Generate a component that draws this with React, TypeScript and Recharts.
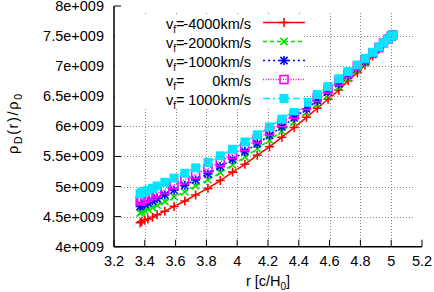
import { LineChart, Line, XAxis, YAxis } from "recharts";

// radius values [c/H0]
const rValues = [
  3.37, 3.38, 3.4, 3.42, 3.45, 3.48, 3.53, 3.59, 3.66, 3.73, 3.81, 3.89, 3.97,
  4.05, 4.13, 4.21, 4.29, 4.37, 4.45, 4.52, 4.59, 4.66, 4.72, 4.78, 4.83,
  4.88, 4.92, 4.95, 4.98, 5.0, 5.01,
];

// rho_D(r)/rho_0 in units of 1e9
const rhoM4000 = [
  4.4, 4.42, 4.44, 4.46, 4.49, 4.53, 4.59, 4.67, 4.76, 4.86, 4.97, 5.1, 5.24,
  5.37, 5.52, 5.66, 5.82, 5.98, 6.15, 6.3, 6.45, 6.6, 6.76, 6.89, 7.02, 7.17,
  7.28, 7.37, 7.44, 7.49, 7.52,
];
const rhoM2000 = [
  4.56, 4.58, 4.6, 4.62, 4.65, 4.69, 4.75, 4.83, 4.91, 5.01, 5.11, 5.23, 5.36,
  5.49, 5.63, 5.77, 5.92, 6.07, 6.23, 6.37, 6.51, 6.65, 6.8, 6.93, 7.05, 7.19,
  7.29, 7.38, 7.45, 7.49, 7.52,
];
const rhoM1000 = [
  4.67, 4.69, 4.71, 4.73, 4.76, 4.8, 4.86, 4.94, 5.02, 5.11, 5.21, 5.33, 5.45,
  5.58, 5.71, 5.85, 5.99, 6.14, 6.29, 6.43, 6.57, 6.71, 6.85, 6.97, 7.08,
  7.21, 7.3, 7.38, 7.45, 7.5, 7.52,
];
const rhoZero = [
  4.76, 4.78, 4.8, 4.82, 4.85, 4.89, 4.95, 5.03, 5.11, 5.2, 5.3, 5.41, 5.53,
  5.66, 5.79, 5.92, 6.06, 6.2, 6.35, 6.48, 6.62, 6.75, 6.88, 7.0, 7.11, 7.22,
  7.31, 7.39, 7.45, 7.5, 7.52,
];
const rhoP1000 = [
  4.88, 4.9, 4.92, 4.94, 4.97, 5.01, 5.07, 5.14, 5.22, 5.31, 5.4, 5.51, 5.62,
  5.74, 5.86, 5.99, 6.12, 6.26, 6.4, 6.53, 6.66, 6.79, 6.91, 7.02, 7.13, 7.23,
  7.32, 7.39, 7.45, 7.5, 7.52,
];

const xTicks = [3.2, 3.4, 3.6, 3.8, 4, 4.2, 4.4, 4.6, 4.8, 5, 5.2];
const yTicks = [4, 4.5, 5, 5.5, 6, 6.5, 7, 7.5, 8];

const legendValues = ["-4000km/s", "-2000km/s", "-1000km/s", "0km/s", "1000km/s"];

const W = 434;
const H = 292;
const MARGIN = { top: 6, right: 12, bottom: 0, left: 0 };
const X_AXIS_H = 45.3;
const Y_AXIS_W = 114;
const PLOT_LEFT = MARGIN.left + Y_AXIS_W;
const PLOT_TOP = MARGIN.top;
const PLOT_RIGHT = W - MARGIN.right;
const PLOT_BOTTOM = H - MARGIN.bottom - X_AXIS_H;

const FONT = "'Liberation Sans', Arial, sans-serif";
const FS = 14.5;
const TICK = 7;
const GRID = "#888";

type Shape = "plus" | "cross" | "star" | "openSquare" | "square";

const seriesDefs: {
  key: string;
  color: string;
  dash?: string;
  shape: Shape;
}[] = [
  { key: "m4000", color: "#ff0000", shape: "plus" },
  { key: "m2000", color: "#00e000", dash: "4 3", shape: "cross" },
  { key: "m1000", color: "#0000ff", dash: "2 3", shape: "star" },
  { key: "zero", color: "#ff00ff", dash: "1 1.5", shape: "openSquare" },
  { key: "p1000", color: "#00e8ff", dash: "7 3 2 3", shape: "square" },
];

const data = rValues.map((r, i) => ({
  r,
  m4000: rhoM4000[i],
  m2000: rhoM2000[i],
  m1000: rhoM1000[i],
  zero: rhoZero[i],
  p1000: rhoP1000[i],
}));

function Marker({ cx, cy, shape, color }: { cx: number; cy: number; shape: Shape; color: string }) {
  const s = 4.5;
  const d = 3.6;
  if (shape === "plus")
    return (
      <g stroke={color} strokeWidth={1.6}>
        <line x1={cx - s} x2={cx + s} y1={cy} y2={cy} />
        <line x1={cx} x2={cx} y1={cy - s} y2={cy + s} />
      </g>
    );
  if (shape === "cross")
    return (
      <g stroke={color} strokeWidth={1.6}>
        <line x1={cx - d} x2={cx + d} y1={cy - d} y2={cy + d} />
        <line x1={cx - d} x2={cx + d} y1={cy + d} y2={cy - d} />
      </g>
    );
  if (shape === "star")
    return (
      <g stroke={color} strokeWidth={1.6}>
        <line x1={cx - s} x2={cx + s} y1={cy} y2={cy} />
        <line x1={cx} x2={cx} y1={cy - s} y2={cy + s} />
        <line x1={cx - d} x2={cx + d} y1={cy - d} y2={cy + d} />
        <line x1={cx - d} x2={cx + d} y1={cy + d} y2={cy - d} />
      </g>
    );
  if (shape === "openSquare")
    return <rect x={cx - 4} y={cy - 4} width={8} height={8} fill="none" stroke={color} strokeWidth={1.6} />;
  return <rect x={cx - 4.5} y={cy - 4.5} width={9} height={9} fill={color} />;
}

const snap = (v: number) => Math.round(v) + 0.5;
// tick value -> pixel, for the dotted grid only
const gx = (v: number) => PLOT_LEFT + ((v - 3.2) / 2) * (PLOT_RIGHT - PLOT_LEFT);
const gy = (v: number) => PLOT_TOP + ((8 - v) / 4) * (PLOT_BOTTOM - PLOT_TOP);

const BottomTick = (props: any) => {
  const { x, y, payload } = props;
  return (
    <g>
      <line x1={x} x2={x} y1={y} y2={y - TICK} stroke="#000" strokeWidth={1} />
      <text x={x} y={y + 19.3} textAnchor="middle" fontFamily={FONT} fontSize={FS} fill="#000">
        {payload.value}
      </text>
    </g>
  );
};

const LeftTick = (props: any) => {
  const { x, y, payload } = props;
  return (
    <g>
      <line x1={x} x2={x + TICK} y1={y} y2={y} stroke="#000" strokeWidth={1} />
      <text x={x - 10} y={y + 5} textAnchor="end" fontFamily={FONT} fontSize={FS} fill="#000">
        {`${payload.value}e+009`}
      </text>
    </g>
  );
};

const TopTick = (props: any) => {
  const { x, y } = props;
  return <line x1={x} x2={x} y1={y} y2={y + TICK} stroke="#000" strokeWidth={1} />;
};

const RightTick = (props: any) => {
  const { x, y } = props;
  return <line x1={x} x2={x - TICK} y1={y} y2={y} stroke="#000" strokeWidth={1} />;
};

function Vf({ x, y }: { x: number; y: number }) {
  return (
    <text x={x} y={y} fontFamily={FONT} fontSize={FS} fill="#000">
      v<tspan fontSize={10} dy={4}>f</tspan>
      <tspan dy={-4}>=</tspan>
    </text>
  );
}

const layer = { position: "absolute" as const, left: 0, top: 0 };

export default function App() {
  const rowY = [22.5, 41.5, 60.5, 79.5, 98.5];
  return (
    <div style={{ position: "absolute", left: 0, top: 0, width: W, height: H, background: "#fff" }}>
      <div style={layer}>
        <LineChart width={W} height={H} data={data} margin={MARGIN}>
          <XAxis
            dataKey="r"
            type="number"
            domain={[3.2, 5.2]}
            ticks={xTicks}
            allowDataOverflow
            height={X_AXIS_H}
            tickSize={0}
            tickMargin={0}
            tick={<BottomTick />}
            axisLine={{ stroke: "#000", strokeWidth: 1.5 }}
            tickLine={false}
            interval={0}
          />
          <XAxis
            xAxisId="top"
            orientation="top"
            dataKey="r"
            type="number"
            domain={[3.2, 5.2]}
            ticks={xTicks}
            allowDataOverflow
            height={0}
            tickSize={0}
            tickMargin={0}
            tick={<TopTick />}
            axisLine={{ stroke: "#000", strokeWidth: 1.5 }}
            tickLine={false}
            interval={0}
          />
          <YAxis
            type="number"
            domain={[4, 8]}
            ticks={yTicks}
            allowDataOverflow
            width={Y_AXIS_W}
            tickSize={0}
            tickMargin={0}
            tick={<LeftTick />}
            axisLine={{ stroke: "#000", strokeWidth: 1.5 }}
            tickLine={false}
            interval={0}
          />
          <YAxis
            yAxisId="right"
            orientation="right"
            type="number"
            domain={[4, 8]}
            ticks={yTicks}
            allowDataOverflow
            width={0}
            tickSize={0}
            tickMargin={0}
            tick={<RightTick />}
            axisLine={{ stroke: "#000", strokeWidth: 1.5 }}
            tickLine={false}
            interval={0}
          />
          {seriesDefs.map((s) => (
            <Line
              key={s.key}
              dataKey={s.key}
              type="linear"
              stroke={s.color}
              strokeWidth={1.5}
              strokeDasharray={s.dash}
              isAnimationActive={false}
              dot={(p: any) => (
                <Marker key={`${s.key}-${p.index}`} cx={p.cx} cy={p.cy} shape={s.shape} color={s.color} />
              )}
              activeDot={false}
            />
          ))}
        </LineChart>
      </div>
      {/* grid, legend and axis titles */}
      <svg width={W} height={H} style={{ ...layer, pointerEvents: "none" }}>
        <g stroke={GRID} strokeWidth={1} strokeDasharray="1 2">
          {xTicks.slice(1, -1).map((v) => (
            <line key={`gx-${v}`} x1={snap(gx(v))} x2={snap(gx(v))} y1={PLOT_TOP + TICK} y2={PLOT_BOTTOM - TICK} />
          ))}
          {yTicks.slice(1, -1).map((v) => (
            <line key={`gy-${v}`} x1={PLOT_LEFT + TICK} x2={PLOT_RIGHT - TICK} y1={snap(gy(v))} y2={snap(gy(v))} />
          ))}
        </g>
        <rect x={115} y={14} width={189} height={94} fill="#fff" />
        {seriesDefs.map((s, i) => (
          <g key={s.key}>
            <Vf x={166} y={rowY[i] + 6} />
            <text x={251} y={rowY[i] + 6} textAnchor="end" fontFamily={FONT} fontSize={FS} fill="#000">
              {legendValues[i]}
            </text>
            <line
              x1={263}
              x2={305}
              y1={rowY[i]}
              y2={rowY[i]}
              stroke={s.color}
              strokeWidth={1.5}
              strokeDasharray={s.dash}
            />
            <Marker cx={284} cy={rowY[i]} shape={s.shape} color={s.color} />
          </g>
        ))}
        <text x={268} y={286} textAnchor="middle" fontFamily={FONT} fontSize={FS} fill="#000">
          r [c/H<tspan fontSize={10} dy={4}>0</tspan>
          <tspan dy={-4}>]</tspan>
        </text>
        <text
          transform="translate(18,124) rotate(-90)"
          textAnchor="middle"
          fontFamily={FONT}
          fontSize={FS}
          fill="#000"
          textLength={60}
          lengthAdjust="spacing"
        >
          ρ<tspan fontSize={10.5} dy={4}>D</tspan>
          <tspan dy={-4}>(r)/ρ</tspan>
          <tspan fontSize={10.5} dy={4}>0</tspan>
        </text>
      </svg>
    </div>
  );
}
